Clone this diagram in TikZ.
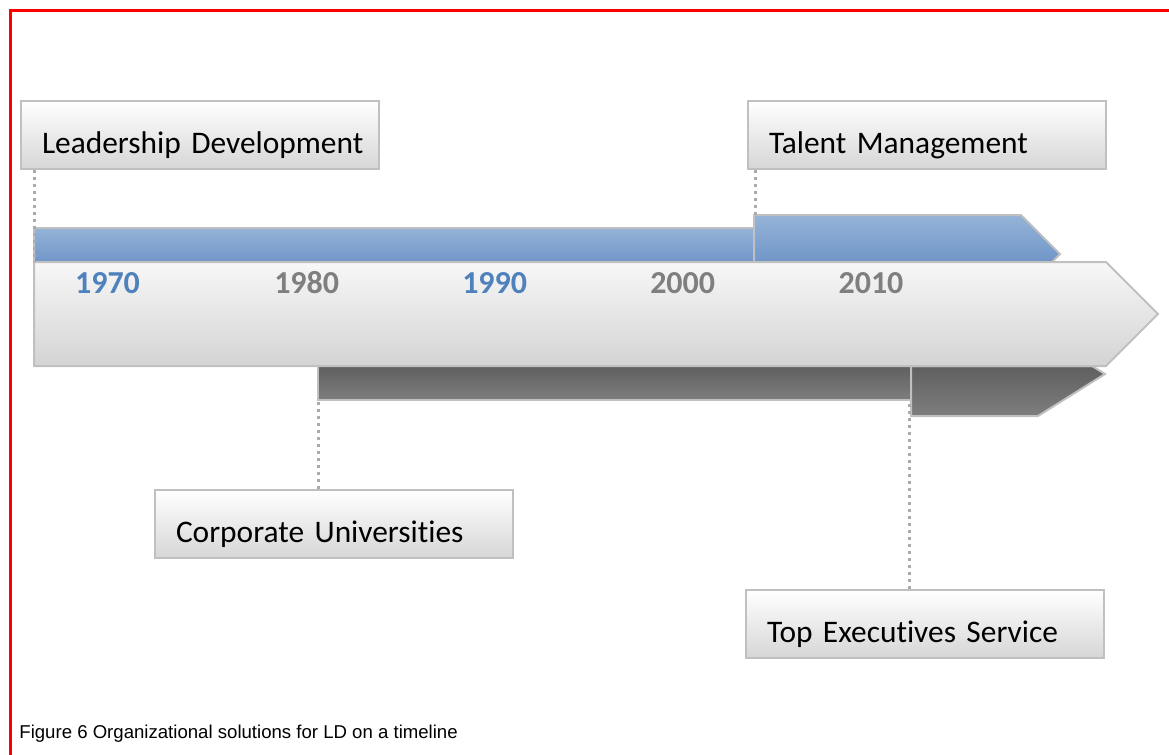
\documentclass[tikz,border=0pt]{standalone}
\usepackage{fontspec}
\setmainfont{Carlito}[Ligatures=NoCommon]
\newfontfamily\captionfont{Liberation Sans}
\usepackage{xcolor}
\usepackage{tikz}
\usetikzlibrary{calc}
\definecolor{framered}{HTML}{FF0000}
\definecolor{edgegray}{HTML}{C0C0C0}
\definecolor{dotgray}{HTML}{ABABAB}
\definecolor{yearblue}{HTML}{4F81BD}
\definecolor{yeargray}{HTML}{7F7F7F}
\definecolor{bluetop}{HTML}{95B3D7}
\definecolor{bluebottom}{HTML}{7096C8}
\definecolor{darktop}{HTML}{5F5F5F}
\definecolor{darkbottom}{HTML}{7E7E7E}

\begin{document}
\begin{tikzpicture}[x=0.5pt, y=-0.5pt,
		labelbox/.style={draw=edgegray, line width=1pt, top color=white, bottom color=black!16, anchor=north west, text width=179pt, inner xsep=0pt, inner ysep=0pt, text height=26pt, text depth=8pt, align=left, font=\fontsize{15.7}{18}\selectfont, execute at begin node=\hskip10.5pt},
		bluebar/.style={draw=edgegray, line width=1pt, top color=bluetop, bottom color=bluebottom},
		darkbar/.style={draw=edgegray, line width=1pt, top color=darktop, bottom color=darkbottom},
		mainarrow/.style={draw=edgegray, line width=1pt, top color=white!97!black, bottom color=black!17},
		year/.style={font=\fontsize{16}{19}\selectfont\bfseries, inner sep=0pt},
		leader/.style={draw=dotgray, line width=1.5pt, dash pattern=on 1.5pt off 2pt}]
		\useasboundingbox (0,0) rectangle (1169,755);
		\draw[framered, line width=1.8pt] (10.5,755) -- (10.5,10.5) -- (1169,10.5);
		\node[labelbox] (ld) at (20,100) {Leadership Development};
		\node[labelbox] (tm) at (747,100) {Talent Management};
		\node[labelbox] (cu) at (154,489) {Corporate Universities};
		\node[labelbox] (te) at (745,589) {Top Executives Service};
		\draw[bluebar] (34,228) -- (754,228) -- (754,262) -- (34,262) -- cycle;
		\draw[bluebar] (754,215) -- (1021,215) -- (1060,254) -- (1052,262) -- (754,262) -- cycle;
		\draw[darkbar] (318,366) -- (911,366) -- (911,400) -- (318,400) -- cycle;
		\draw[darkbar] (911,366) -- (1092,366) -- (1105,374) -- (1038,416) -- (911,416) -- cycle;
		\draw[mainarrow] (34,262) -- (1106,262) -- (1158,314) -- (1106,366) -- (34,366) -- cycle;
		\coordinate (ldend) at (34,262);
		\coordinate (tmend) at (755,215);
		\coordinate (cuend) at (318,400);
		\coordinate (teend) at (909,400);
		\foreach \yr/\xc/\col in {1970/107.5/yearblue, 1980/306.7/yeargray, 1990/494.7/yearblue, 2000/682.7/yeargray, 2010/871/yeargray}
			\node[year, text=\col] (y\yr) at (\xc,283) {\yr};
		\draw[leader] (ld.south -| ldend) -- (ldend);
		\draw[leader] (tm.south -| tmend) -- (tmend);
		\draw[leader] (cu.north -| cuend) -- (cuend);
		\draw[leader] (te.north -| teend) -- (teend);
		\node[anchor=base west, inner sep=0pt, font=\captionfont\fontsize{9.3}{11}\selectfont] (caption) at (19,738) {Figure 6 Organizational solutions for LD on a timeline};
	\end{tikzpicture}
\end{document}
